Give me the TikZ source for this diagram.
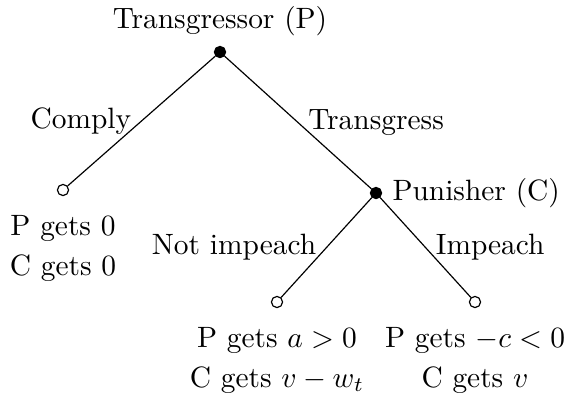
\documentclass[tikz,border=0pt]{standalone}
\usepackage{tikz}
\usetikzlibrary{positioning}

\begin{document}
\begin{tikzpicture}[x=0.34pt,y=-0.34pt,
  decision/.style={circle,fill=black,draw=black,inner sep=0pt,minimum size=3.8pt},
  terminal/.style={circle,fill=white,draw=black,inner sep=0pt,minimum size=3.8pt},
  payoff/.style={align=center,anchor=north}]
\useasboundingbox (0,0) rectangle (567,393);
\node[decision] (root) at (220,52) {};
\node[terminal] (comply) at (63,190) {};
\node[decision] (punisher) at (376,193) {};
\node[terminal] (noimp) at (277,302) {};
\node[terminal] (imp) at (475,302) {};

\node[above=0pt of root] (rootlab) {Transgressor (P)};
\node[right=0pt of punisher] (punlab) {Punisher (C)};

\draw (root) -- node[midway,left] {Comply} (comply);
\draw (root) -- node[midway,right] {Transgress} (punisher);
\draw (punisher) -- node[midway,left] {Not impeach} (noimp);
\draw (punisher) -- node[midway,right] {Impeach} (imp);

\node[payoff,below=3pt of comply] (complypay) {P gets 0\\[1.5pt] C gets 0};
\node[payoff,below=3pt of noimp] (noimppay) {P gets $a>0$\\[1.5pt] C gets $v-w_t$};
\node[payoff,below=3pt of imp] (imppay) {P gets $-c<0$\\[1.5pt] C gets $v$};
\end{tikzpicture}
\end{document}
